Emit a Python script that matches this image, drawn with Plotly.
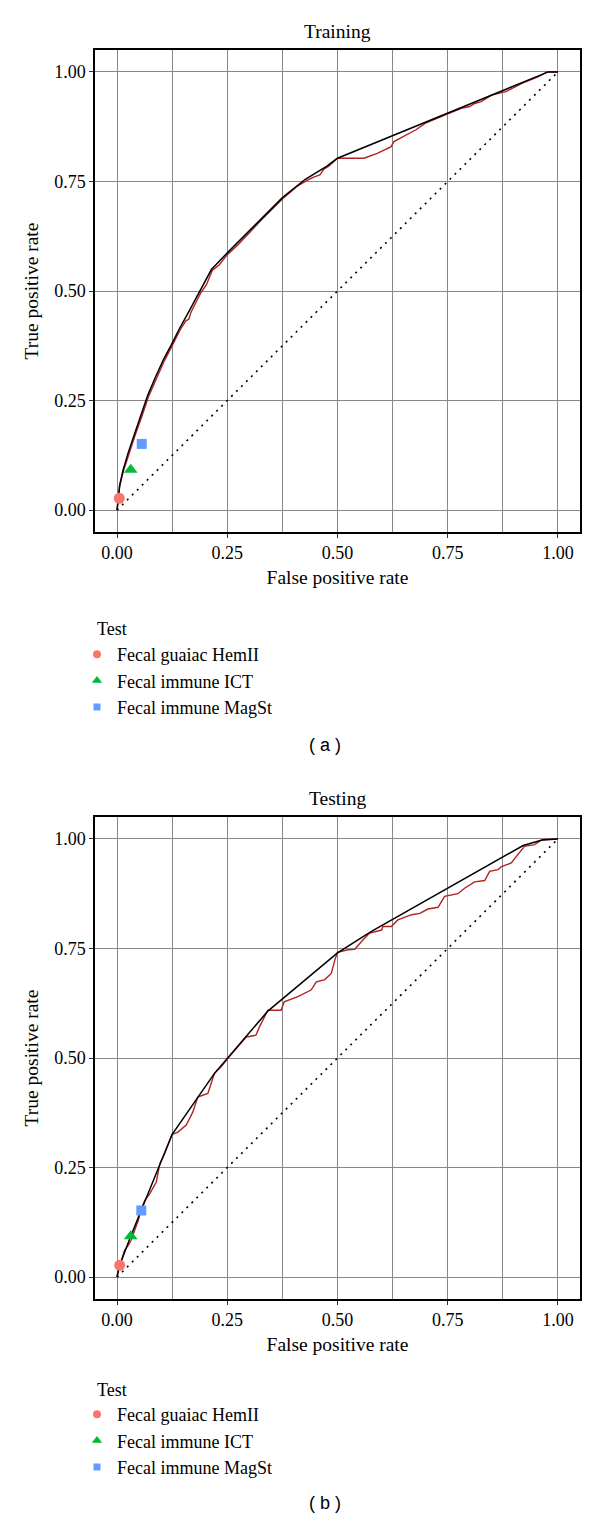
import plotly.graph_objects as go

# page has an 8px body margin; figure is sized to fit inside 600x1531
OFF = 8
WF, HF = 584, 1515
SERIF = "Liberation Serif"
SANS = "Liberation Sans"

# ---------------- data ----------------
TEST_NAMES = ["Fecal guaiac HemII", "Fecal immune ICT", "Fecal immune MagSt"]
TEST_COLORS = ["#F8766D", "#00BA38", "#619CFF"]
TEST_SYMBOLS = ["circle", "triangle-up", "square"]
MARKER_SIZES = [11, 12, 10]
LEGEND_MARKER_SIZES = [8, 9, 7]

DIAG_X = [0, 1]
DIAG_Y = [0, 1]

# Training panel
TRAIN_ROC_FPR = [0, 0.002, 0.006, 0.014, 0.026, 0.041, 0.056, 0.071, 0.088, 0.106, 0.124, 0.143,
                 0.156, 0.163, 0.167, 0.19, 0.203, 0.216, 0.232, 0.25, 0.275, 0.3, 0.33, 0.375,
                 0.41, 0.43, 0.446, 0.46, 0.469, 0.48, 0.494, 0.5, 0.56, 0.59, 0.621, 0.628,
                 0.678, 0.701, 0.75, 0.781, 0.8, 0.811, 0.826, 0.849, 0.872, 0.882, 0.903,
                 0.918, 0.956, 0.975, 1.0]
TRAIN_ROC_TPR = [0, 0.022, 0.055, 0.088, 0.127, 0.171, 0.213, 0.258, 0.297, 0.338, 0.373, 0.411,
                 0.432, 0.436, 0.45, 0.496, 0.515, 0.547, 0.56, 0.583, 0.606, 0.633, 0.665, 0.71,
                 0.74, 0.752, 0.76, 0.765, 0.778, 0.785, 0.797, 0.803, 0.803, 0.814, 0.829, 0.841,
                 0.868, 0.884, 0.904, 0.917, 0.921, 0.928, 0.932, 0.947, 0.953, 0.955, 0.966,
                 0.974, 0.989, 1.0, 1.0]
TRAIN_HULL_FPR = [0, 0.002, 0.006, 0.0136, 0.025, 0.04, 0.055, 0.07, 0.086, 0.105, 0.123, 0.142,
                  0.165, 0.188, 0.214, 0.25, 0.3, 0.375, 0.427, 0.476, 0.5, 0.978, 1.0]
TRAIN_HULL_TPR = [0, 0.023, 0.057, 0.091, 0.13, 0.175, 0.217, 0.263, 0.301, 0.343, 0.377, 0.415,
                  0.457, 0.499, 0.549, 0.587, 0.638, 0.713, 0.755, 0.785, 0.803, 1.0, 1.0]
TRAIN_PT_FPR = [0.005, 0.031, 0.056]
TRAIN_PT_TPR = [0.027, 0.092, 0.151]

# Testing panel
TEST_ROC_FPR = [0, 0.002, 0.01, 0.017, 0.025, 0.032, 0.04, 0.048, 0.055, 0.063, 0.074, 0.089,
                0.097, 0.108, 0.125, 0.138, 0.157, 0.172, 0.183, 0.206, 0.221, 0.236, 0.251,
                0.274, 0.293, 0.315, 0.323, 0.342, 0.372, 0.379, 0.41, 0.44, 0.452, 0.471,
                0.486, 0.494, 0.5, 0.524, 0.539, 0.558, 0.573, 0.6, 0.603, 0.622, 0.637, 0.668,
                0.687, 0.705, 0.728, 0.743, 0.773, 0.789, 0.811, 0.834, 0.845, 0.864, 0.872,
                0.894, 0.909, 0.924, 0.947, 0.962, 1.0]
TEST_ROC_TPR = [0, 0.015, 0.038, 0.061, 0.072, 0.084, 0.107, 0.129, 0.156, 0.175, 0.19, 0.217,
                0.259, 0.282, 0.326, 0.331, 0.347, 0.377, 0.411, 0.419, 0.465, 0.48, 0.499,
                0.526, 0.548, 0.552, 0.571, 0.609, 0.609, 0.628, 0.64, 0.655, 0.674, 0.679,
                0.693, 0.724, 0.741, 0.747, 0.748, 0.77, 0.785, 0.792, 0.80, 0.80, 0.815, 0.827,
                0.83, 0.84, 0.844, 0.869, 0.875, 0.888, 0.902, 0.905, 0.926, 0.93, 0.937,
                0.945, 0.964, 0.983, 0.987, 0.997, 1.0]
TEST_HULL_FPR = [0, 0.006, 0.031, 0.055, 0.097, 0.125, 0.221, 0.342, 0.5, 0.577, 0.921, 0.966, 1.0]
TEST_HULL_TPR = [0, 0.027, 0.093, 0.152, 0.259, 0.326, 0.465, 0.607, 0.74, 0.789, 0.985, 0.998, 1.0]
TEST_PT_FPR = [0.006, 0.031, 0.055]
TEST_PT_TPR = [0.027, 0.093, 0.152]

TICK_VALS = [0, 0.25, 0.5, 0.75, 1.0]
TICK_TEXT = ["0.00", "0.25", "0.50", "0.75", "1.00"]
MINOR_VALS = [0.125, 0.375, 0.625, 0.875]


def px(x):
    return (x - OFF) / WF


def py(y):
    return 1 - (y - OFF) / HF


fig = go.Figure()

panels = [
    dict(xa="x", ya="y", leg="legend", roc=(TRAIN_ROC_FPR, TRAIN_ROC_TPR),
         hull=(TRAIN_HULL_FPR, TRAIN_HULL_TPR), pts=(TRAIN_PT_FPR, TRAIN_PT_TPR)),
    dict(xa="x2", ya="y2", leg="legend2", roc=(TEST_ROC_FPR, TEST_ROC_TPR),
         hull=(TEST_HULL_FPR, TEST_HULL_TPR), pts=(TEST_PT_FPR, TEST_PT_TPR)),
]

for p in panels:
    fig.add_trace(go.Scatter(x=DIAG_X, y=DIAG_Y, mode="lines", xaxis=p["xa"], yaxis=p["ya"],
                             line=dict(color="black", width=1.6, dash="2px,5px"),
                             showlegend=False, hoverinfo="skip"))
    fig.add_trace(go.Scatter(x=p["roc"][0], y=p["roc"][1], mode="lines", xaxis=p["xa"], yaxis=p["ya"],
                             line=dict(color="#B22222", width=1.4), showlegend=False))
    fig.add_trace(go.Scatter(x=p["hull"][0], y=p["hull"][1], mode="lines", xaxis=p["xa"], yaxis=p["ya"],
                             line=dict(color="black", width=1.5), showlegend=False))
    for i, name in enumerate(TEST_NAMES):
        fig.add_trace(go.Scatter(x=[p["pts"][0][i]], y=[p["pts"][1][i]], mode="markers",
                                 xaxis=p["xa"], yaxis=p["ya"], name=name,
                                 marker=dict(color=TEST_COLORS[i], symbol=TEST_SYMBOLS[i],
                                             size=MARKER_SIZES[i]),
                                 showlegend=False))
    # legend entries
    for i, name in enumerate(TEST_NAMES):
        fig.add_trace(go.Scatter(x=[None], y=[None], mode="markers", xaxis=p["xa"], yaxis=p["ya"],
                                 name=name, legend=p["leg"],
                                 marker=dict(color=TEST_COLORS[i], symbol=TEST_SYMBOLS[i],
                                             size=LEGEND_MARKER_SIZES[i])))

axis_common = dict(
    range=[-0.05, 1.05], showgrid=True, gridcolor="#878787", gridwidth=1, zeroline=False,
    showline=True, mirror=True, linecolor="black", linewidth=1.5,
    ticks="outside", ticklen=4, tickcolor="#333333", tickwidth=1,
    tickmode="array", tickvals=TICK_VALS, ticktext=TICK_TEXT,
    tickfont=dict(family=SERIF, size=18, color="black"),
)
xdom = [px(95), px(580)]
ydom_top = [py(532), py(50)]
ydom_bot = [py(1299), py(817)]

minor_x = dict(tickmode="array", tickvals=MINOR_VALS, showgrid=True, gridcolor="#878787",
               gridwidth=1, ticks="")

TFONT = dict(family=SERIF, size=19.5, color="black")

fig.update_layout(
    width=WF, height=HF, margin=dict(l=0, r=0, t=0, b=0),
    paper_bgcolor="white", plot_bgcolor="white",
    xaxis=dict(axis_common, domain=xdom, anchor="y", minor=minor_x,
               title=dict(text="False positive rate", font=TFONT, standoff=8)),
    yaxis=dict(axis_common, domain=ydom_top, anchor="x",
               title=dict(text="True positive rate", font=TFONT, standoff=10)),
    xaxis2=dict(axis_common, domain=xdom, anchor="y2", minor=minor_x,
                title=dict(text="False positive rate", font=TFONT, standoff=8)),
    yaxis2=dict(axis_common, domain=ydom_bot, anchor="x2",
                title=dict(text="True positive rate", font=TFONT, standoff=10)),
    legend=dict(x=px(77), xanchor="left", y=py(636), yanchor="top", bgcolor="rgba(0,0,0,0)",
                font=dict(family=SERIF, size=18, color="black"), tracegroupgap=0),
    legend2=dict(x=px(77), xanchor="left", y=py(1396), yanchor="top", bgcolor="rgba(0,0,0,0)",
                 font=dict(family=SERIF, size=18, color="black"), tracegroupgap=0),
    annotations=[
        dict(text="Training", x=px(337.5), y=py(31), xref="paper", yref="paper", showarrow=False,
             xanchor="center", yanchor="middle", font=TFONT),
        dict(text="Testing", x=px(337.5), y=py(798), xref="paper", yref="paper", showarrow=False,
             xanchor="center", yanchor="middle", font=TFONT),
        dict(text="Test", x=px(95), y=py(629), xref="paper", yref="paper", showarrow=False,
             xanchor="left", yanchor="middle", font=dict(family=SERIF, size=18, color="black")),
        dict(text="Test", x=px(95), y=py(1390), xref="paper", yref="paper", showarrow=False,
             xanchor="left", yanchor="middle", font=dict(family=SERIF, size=18, color="black")),
        dict(text="( a )", x=px(325), y=py(745), xref="paper", yref="paper", showarrow=False,
             xanchor="center", yanchor="middle", font=dict(family=SANS, size=18, color="black")),
        dict(text="( b )", x=px(325), y=py(1503), xref="paper", yref="paper", showarrow=False,
             xanchor="center", yanchor="middle", font=dict(family=SANS, size=18, color="black")),
    ],
)

fig.write_html("out.html")
